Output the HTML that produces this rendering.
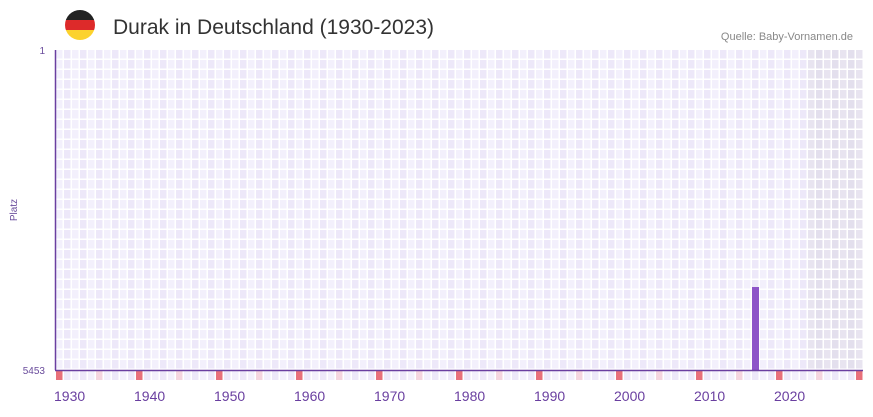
<!DOCTYPE html>
<html><head><meta charset="utf-8"><style>
body{margin:0;width:873px;height:412px;background:#fff;overflow:hidden;font-family:"Liberation Sans",sans-serif}
</style></head><body>
<svg id="s" width="873" height="412" xmlns="http://www.w3.org/2000/svg">
<defs><clipPath id="c"><circle cx="80" cy="25" r="15"/></clipPath></defs>
<g clip-path="url(#c)"><rect x="65" y="10" width="30" height="10" fill="#222"/><rect x="65" y="20" width="30" height="10" fill="#dd2a2a"/><rect x="65" y="30" width="30" height="10" fill="#fcd22e"/></g>
<text x="113" y="34" font-size="21" fill="#333">Durak in Deutschland (1930-2023)</text>
<text x="853" y="40" font-size="11" fill="#888" text-anchor="end">Quelle: Baby-Vornamen.de</text>
<text x="45" y="54" font-size="10" fill="#6a4c9c" text-anchor="end">1</text>
<text x="45" y="374" font-size="10" fill="#6a4c9c" text-anchor="end">5453</text>
<text x="17" y="210" font-size="10" fill="#6a4c9c" text-anchor="middle" transform="rotate(-90 17 210)">Platz</text>
<g id="g"></g>
<rect x="752" y="287" width="7" height="83" fill="#8e55c8"/>
<line x1="55.5" y1="50" x2="55.5" y2="370" stroke="#6a3fa0" stroke-width="1.5"/>
<line x1="55" y1="370.5" x2="863" y2="370.5" stroke="#6a3fa0" stroke-width="1.5"/>
</svg>
<script>
var g=document.getElementById('g'),h='';
for(var k=0;k<101;k++){var x=56+8*k;var grey=k>=94;
for(var r=0;r<32;r++){var y=50+10*r;var c=grey?(k%2?'#e3dfed':'#e8e4f0'):(k%2?'#ede8f9':'#f3f0fc');
h+='<rect x="'+x+'" y="'+y+'" width="6.5" height="8.5" fill="'+c+'"/>';}
var bc=(k%10==0)?'#e8707a':(k%5==0?'#f5d5df':(k%2?'#ede8f9':'#f3f0fc'));
h+='<rect x="'+x+'" y="371" width="6.5" height="9" fill="'+bc+'"/>';
if(k%10==0&&k<100)h+='<text x="'+(x-2)+'" y="401" font-size="14" fill="#6a3fa0">'+(1930+k)+'</text>';}
g.innerHTML=h;
</script>
</body></html>
